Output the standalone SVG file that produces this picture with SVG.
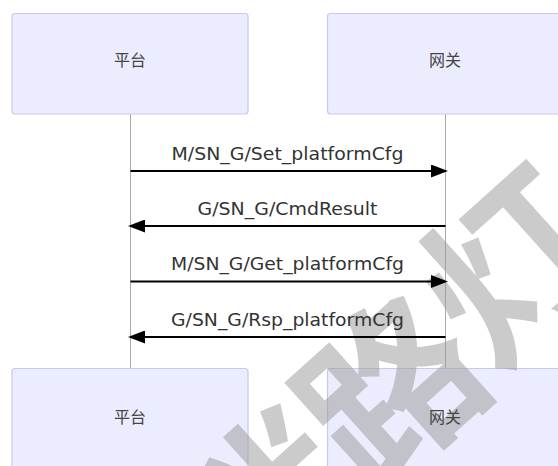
<svg xmlns="http://www.w3.org/2000/svg" width="558" height="466" viewBox="0 0 558 466">
  <style>
    .actor { fill: #ECECFF; stroke: #C9C9E8; stroke-width: 1.2; }
    .actor-label { font-family: "Noto Sans CJK SC", sans-serif; font-size: 16px; fill: #444; text-anchor: middle; dominant-baseline: central; }
    .lifeline { stroke: #AAAAAA; stroke-width: 1; }
    .msg { stroke: #000; stroke-width: 2; fill: none; marker-end: url(#arrowhead); }
    .msg-label { font-family: "DejaVu Sans", "Liberation Sans", sans-serif; font-size: 18.5px; fill: #333; text-anchor: middle; }
    .watermark { font-family: "Noto Sans CJK SC", sans-serif; font-weight: 700; font-size: 175px; fill: #999999; opacity: 0.5; text-anchor: middle; dominant-baseline: central; }
  </style>
  <defs>
    <marker id="arrowhead" markerUnits="userSpaceOnUse" markerWidth="17" markerHeight="13" refX="9" refY="6.5" orient="auto">
      <path d="M0,0 L17,6.5 L0,13 z" fill="#000"/>
    </marker>
  </defs>
  <rect width="558" height="466" fill="#FFFFFF"/>

  <g id="lifelines">
    <line class="lifeline" x1="130.5" y1="114" x2="130.5" y2="368"/>
    <line class="lifeline" x1="445.5" y1="114" x2="445.5" y2="368"/>
  </g>

  <g id="actor-platform-top">
    <rect class="actor" x="12" y="13.5" width="236" height="100.5" rx="3"/>
    <text class="actor-label" x="130" y="59">平台</text>
  </g>
  <g id="actor-gateway-top">
    <rect class="actor" x="327.5" y="13.5" width="236" height="100.5" rx="3"/>
    <text class="actor-label" x="445" y="59">网关</text>
  </g>
  <g id="actor-platform-bottom">
    <rect class="actor" x="12" y="368.5" width="236" height="101" rx="3"/>
  </g>
  <g id="actor-gateway-bottom">
    <rect class="actor" x="327.5" y="368.5" width="236" height="101" rx="3"/>
  </g>

  <g id="watermark">
    <text class="watermark" transform="translate(262,498) rotate(-42)" x="0" y="0">迷</text>
    <text class="watermark" transform="translate(383,382) rotate(-42)" x="0" y="0">路</text>
    <text class="watermark" transform="translate(505,258) rotate(-42)" x="0" y="0">灯</text>
  </g>

  <g id="actor-labels-bottom">
    <text class="actor-label" x="130" y="416">平台</text>
    <text class="actor-label" x="445" y="416">网关</text>
  </g>

  <g id="connectors">
    <line class="msg" x1="130.5" y1="171" x2="440" y2="171"/>
    <line class="msg" x1="445.5" y1="226" x2="136" y2="226"/>
    <line class="msg" x1="130.5" y1="281.5" x2="440" y2="281.5"/>
    <line class="msg" x1="445.5" y1="337" x2="136" y2="337"/>
  </g>

  <g id="message-labels">
    <text class="msg-label" x="287.5" y="159.5" textLength="232" lengthAdjust="spacingAndGlyphs">M/SN_G/Set_platformCfg</text>
    <text class="msg-label" x="287.5" y="214.5" textLength="180" lengthAdjust="spacingAndGlyphs">G/SN_G/CmdResult</text>
    <text class="msg-label" x="287.5" y="270" textLength="233" lengthAdjust="spacingAndGlyphs">M/SN_G/Get_platformCfg</text>
    <text class="msg-label" x="287.5" y="325.5" textLength="233" lengthAdjust="spacingAndGlyphs">G/SN_G/Rsp_platformCfg</text>
  </g>
</svg>
